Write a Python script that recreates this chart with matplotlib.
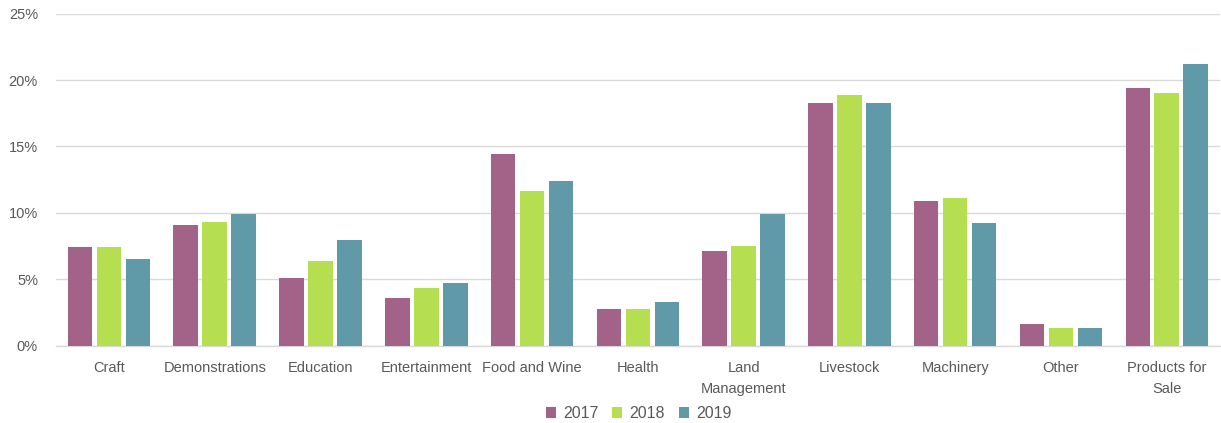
import matplotlib.pyplot as plt
import numpy as np
from matplotlib.ticker import FuncFormatter

categories = [
    "Craft", "Demonstrations", "Education", "Entertainment", "Food and Wine",
    "Health", "Land\nManagement", "Livestock", "Machinery", "Other",
    "Products for\nSale",
]
years = ["2017", "2018", "2019"]
share_2017 = [7.4, 9.1, 5.1, 3.6, 14.4, 2.75, 7.1, 18.3, 10.9, 1.6, 19.4]
share_2018 = [7.4, 9.35, 6.35, 4.35, 11.65, 2.75, 7.5, 18.9, 11.15, 1.35, 19.05]
share_2019 = [6.55, 9.95, 7.95, 4.75, 12.4, 3.3, 9.95, 18.3, 9.25, 1.35, 21.2]
colors = ["#A36389", "#B5DF50", "#6099A8"]

plt.rcParams["font.family"] = ["Liberation Sans", "DejaVu Sans"]

fig = plt.figure(figsize=(12.21, 4.23), dpi=100)
ax = fig.add_axes([0.0459, 0.1827, 0.953, 0.785])

x = np.arange(len(categories))
step = 0.274
for i, (vals, yr, col) in enumerate(zip([share_2017, share_2018, share_2019], years, colors)):
    ax.bar(x + (i - 1) * step, vals, width=0.232, color=col, label=yr, zorder=3)

ax.set_xlim(-0.5, len(categories) - 0.5)
ax.set_ylim(0, 25)
ax.set_yticks(range(0, 26, 5))
ax.yaxis.set_major_formatter(FuncFormatter(lambda v, _: f"{v:.0f}%"))
ax.set_xticks(x)
ax.set_xticklabels(categories, linespacing=1.6)

ax.grid(axis="y", color="#D9D9D9", linewidth=1, zorder=0)
for side in ["top", "right", "left"]:
    ax.spines[side].set_visible(False)
ax.spines["bottom"].set_color("#D9D9D9")
ax.spines["bottom"].set_linewidth(1)

ax.tick_params(axis="y", length=0, pad=13, labelsize=10.5, labelcolor="#595959")
ax.tick_params(axis="x", length=0, pad=11, labelsize=10.5, labelcolor="#595959")

fig.legend(
    loc="lower center",
    bbox_to_anchor=(0.523, -0.03),
    ncol=3,
    frameon=False,
    fontsize=11.5,
    labelcolor="#595959",
    handlelength=0.65,
    handleheight=0.65,
    handletextpad=0.45,
    columnspacing=0.85,
)

fig.savefig("out.png", dpi=100)
